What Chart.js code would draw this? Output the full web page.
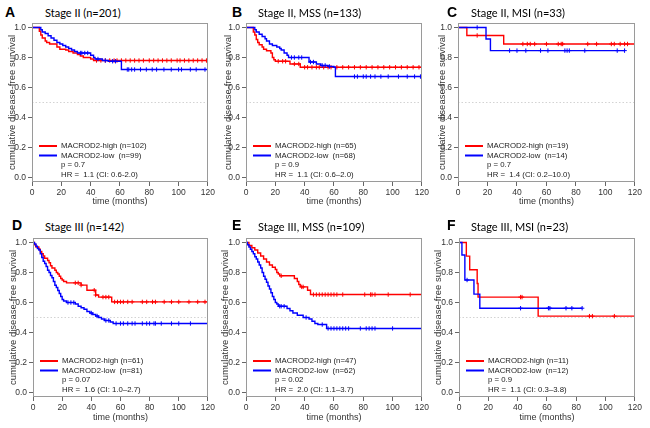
<!DOCTYPE html>
<html>
<head>
<meta charset="utf-8">
<script src="https://cdn.jsdelivr.net/npm/chart.js@4.4.1/dist/chart.umd.min.js"></script>
<style>
body { margin: 0; background: #fff; }
#fig { position: relative; width: 650px; height: 428px; overflow: hidden; background: #fff; }
.pan { position: absolute; }
.lbl { position: absolute; font: bold 14px "Liberation Sans", Arial, sans-serif; line-height: 14px; color: #000; }
.ttl { position: absolute; font: 11px Lato, "Open Sans", sans-serif; line-height: 14px; color: #000; white-space: nowrap; }
</style>
</head>
<body>
<div id="fig"></div>
<script>
// texte des panneaux
const letters = ['A', 'B', 'C', 'D', 'E', 'F'];
const titles = ['Stage II (n=201)', 'Stage II, MSS (n=133)', 'Stage II, MSI (n=33)',
                'Stage III (n=142)', 'Stage III, MSS (n=109)', 'Stage III, MSI (n=23)'];
const highLabels = ['MACROD2-high (n=102)', 'MACROD2-high (n=65)', 'MACROD2-high (n=19)',
                    'MACROD2-high (n=61)', 'MACROD2-high (n=47)', 'MACROD2-high (n=11)'];
const lowLabels = ['MACROD2-low  (n=99)', 'MACROD2-low  (n=68)', 'MACROD2-low  (n=14)',
                   'MACROD2-low  (n=81)', 'MACROD2-low  (n=62)', 'MACROD2-low  (n=12)'];
const pValues = ['p = 0.7', 'p = 0.9', 'p = 0.7', 'p = 0.07', 'p = 0.02', 'p = 0.9'];
const hrTexts = ['HR =  1.1 (CI: 0.6-2.0)', 'HR =  1.1 (CI: 0.6–2.0)', 'HR =  1.4 (CI: 0.2–10.0)',
                 'HR =  1.6 (CI: 1.0–2.7)', 'HR =  2.0 (CI: 1.1–3.7)', 'HR =  1.1 (CI: 0.3–3.8)'];
const xTicks = [0, 20, 40, 60, 80, 100, 120];
const yTicks = [0, 0.2, 0.4, 0.6, 0.8, 1.0];

// A - Stage II
const aHighT = [0, 5, 6, 7, 9, 10, 12, 17, 19, 23, 25, 28, 31, 33, 35, 40, 42, 120];
const aHighS = [1, 0.975, 0.95, 0.93, 0.91, 0.90, 0.89, 0.87, 0.855, 0.85, 0.84, 0.83, 0.82, 0.81, 0.80, 0.79, 0.78, 0.78];
const aHighC = [44, 47, 50, 53, 56, 58, 61, 64, 67, 70, 73, 76, 80, 83, 86, 89, 92, 95, 99, 101, 104, 107, 110, 113, 116, 119];
const aLowT = [0, 6, 7, 9, 11, 13, 15, 17, 19, 21, 23, 25, 27, 29, 31, 40, 42, 43, 48, 52, 61, 120];
const aLowS = [1, 0.985, 0.97, 0.96, 0.945, 0.93, 0.915, 0.90, 0.89, 0.88, 0.87, 0.86, 0.85, 0.84, 0.83, 0.815, 0.80, 0.79, 0.78, 0.775, 0.72, 0.72];
const aLowC = [33, 34, 36, 38, 45, 50, 55, 57, 65, 66, 68, 70, 74, 78, 82, 85, 90, 95, 100, 102, 108, 112, 118];

// B - Stage II, MSS
const bHighT = [0, 5, 6, 7, 8, 9, 11, 12, 14, 17, 18, 19, 20, 30, 37, 120];
const bHighS = [1, 0.97, 0.95, 0.92, 0.90, 0.885, 0.87, 0.855, 0.845, 0.83, 0.80, 0.785, 0.775, 0.757, 0.735, 0.735];
const bHighC = [22, 25, 27, 33, 36, 40, 42, 45, 48, 50, 53, 56, 58, 62, 66, 70, 74, 78, 82, 86, 90, 94, 98, 102, 106, 110, 114, 118];
const bLowT = [0, 6, 7, 9, 11, 13, 14, 16, 18, 21, 23, 24, 26, 28, 29, 43, 48, 51, 56, 60, 61, 120];
const bLowS = [1, 0.985, 0.97, 0.955, 0.94, 0.925, 0.91, 0.89, 0.88, 0.87, 0.86, 0.85, 0.83, 0.815, 0.80, 0.77, 0.757, 0.747, 0.74, 0.735, 0.673, 0.673];
const bLowC = [31, 33, 36, 38, 44, 46, 52, 54, 57, 74, 76, 80, 82, 85, 88, 92, 97, 104, 110, 115, 119];

// C - Stage II, MSI
const cHighT = [0, 6, 31, 120];
const cHighS = [1, 0.947, 0.89, 0.89];
const cHighC = [13, 44, 47, 49, 52, 60, 68, 70, 71, 88, 94, 104, 106, 110, 113, 115];
const cLowT = [0, 19, 22, 113];
const cLowS = [1, 0.923, 0.846, 0.846];
const cLowC = [13, 35, 40, 46, 56, 61, 72.5, 74, 75.5, 86, 108, 113];

// D - Stage III
const dHighT = [0, 1, 2, 4, 5, 6, 7, 8, 10, 11, 12, 13, 15, 16, 17, 18, 19, 20, 21, 23, 33, 37, 43, 45, 54, 120];
const dHighS = [1, 0.985, 0.97, 0.955, 0.94, 0.925, 0.91, 0.895, 0.88, 0.865, 0.845, 0.83, 0.815, 0.80, 0.79, 0.775, 0.76, 0.75, 0.74, 0.731, 0.716, 0.682, 0.65, 0.636, 0.604, 0.604];
const dHighC = [29, 31, 33, 42, 43, 48, 50, 52, 56, 58, 60, 62, 65, 68, 75, 78, 82, 84, 90, 95, 100, 107, 113, 118];
const dLowT = [0, 1, 2, 3, 4, 5, 6, 7, 8, 9, 10, 11, 12, 13, 14, 15, 16, 17, 18, 19, 20, 21, 23, 29, 31, 33, 35, 37, 39, 41, 43, 45, 47, 49, 53, 55, 120];
const dLowS = [1, 0.99, 0.975, 0.96, 0.95, 0.925, 0.90, 0.875, 0.86, 0.84, 0.815, 0.80, 0.78, 0.765, 0.74, 0.715, 0.70, 0.68, 0.66, 0.64, 0.62, 0.61, 0.60, 0.59, 0.575, 0.565, 0.555, 0.54, 0.53, 0.52, 0.51, 0.50, 0.49, 0.48, 0.47, 0.46, 0.46];
const dLowC = [24, 26, 28, 40, 44, 50, 52, 57, 60, 62, 65, 68, 70, 75, 78, 80, 83, 84, 88, 95, 100, 108];

// E - Stage III, MSS
const eHighT = [0, 2, 4, 6, 8, 10, 12, 14, 16, 18, 20, 21, 22, 23, 33, 35, 36, 37, 42, 44, 120];
const eHighS = [1, 0.98, 0.965, 0.95, 0.93, 0.91, 0.89, 0.87, 0.85, 0.835, 0.82, 0.80, 0.79, 0.778, 0.76, 0.74, 0.72, 0.704, 0.682, 0.653, 0.653];
const eHighC = [24, 38, 39, 46, 48, 50, 52, 54, 56, 58, 60, 62, 66, 81, 85, 86, 88, 97, 112];
const eLowT = [0, 1, 2, 3, 4, 5, 6, 7, 8, 9, 10, 11, 12, 13, 14, 15, 16, 17, 18, 19, 20, 21, 22, 28, 30, 32, 35, 39, 43, 45, 47, 49, 55, 120];
const eLowS = [1, 0.985, 0.97, 0.955, 0.94, 0.925, 0.905, 0.89, 0.87, 0.85, 0.83, 0.80, 0.775, 0.755, 0.735, 0.71, 0.69, 0.665, 0.64, 0.62, 0.60, 0.59, 0.575, 0.56, 0.545, 0.53, 0.515, 0.50, 0.49, 0.475, 0.46, 0.453, 0.427, 0.427];
const eLowC = [23, 24, 26, 41, 52, 56, 58, 60, 62, 64, 66, 68, 70, 78, 82, 84, 86, 88, 100];

// F - Stage III, MSI
const fHighT = [0, 5, 7.3, 12.4, 13, 54, 120];
const fHighS = [1, 0.909, 0.818, 0.727, 0.636, 0.509, 0.509];
const fHighC = [42, 43, 89, 91, 106];
const fLowT = [0, 2, 4, 10.2, 14.2, 84];
const fLowS = [1, 0.917, 0.75, 0.656, 0.562, 0.562];
const fLowC = [5.5, 42, 61, 62, 73, 77, 84];

const curves = [
    [aHighT, aHighS, aHighC, aLowT, aLowS, aLowC],
    [bHighT, bHighS, bHighC, bLowT, bLowS, bLowC],
    [cHighT, cHighS, cHighC, cLowT, cLowS, cLowC],
    [dHighT, dHighS, dHighC, dLowT, dLowS, dLowC],
    [eHighT, eHighS, eHighC, eLowT, eLowS, eLowC],
    [fHighT, fHighS, fHighC, fLowT, fLowS, fLowC]
];

// placement: canvas [left, top, w, h], zone de tracé [left, top, right, bottom], lettre, titre
const layout = [
    { cv: [0, 15, 217, 200],   area: [32, 23, 213, 182],   lt: [5, 5],     tt: [45, 6] },
    { cv: [216, 15, 215, 200], area: [246, 23, 427, 182],  lt: [232, 5],   tt: [258, 6] },
    { cv: [430, 15, 214, 200], area: [458, 23, 640, 182],  lt: [447, 5],   tt: [471, 6] },
    { cv: [1, 230, 216, 198],  area: [33, 238, 213, 397],  lt: [12, 218],  tt: [45, 220] },
    { cv: [213, 230, 218, 198], area: [246, 238, 427, 397], lt: [232, 218], tt: [258, 220] },
    { cv: [426, 230, 218, 198], area: [459, 238, 640, 397], lt: [447, 218], tt: [471, 220] }
];

const FONT = '"Liberation Sans", Arial, sans-serif';
const RED = '#ff0000';
const BLUE = '#0000ff';

function stepPoints(t, s) {
    return t.map((x, i) => ({ x: x, y: s[i] }));
}
function survAt(t, s, x) {
    let v = s[0];
    for (let i = 0; i < t.length; i++) { if (t[i] <= x) v = s[i]; }
    return v;
}
function censorPoints(c, t, s) {
    return c.map(x => ({ x: x, y: survAt(t, s, x) }));
}

const fig = document.getElementById('fig');

layout.forEach((L, k) => {
    const lt = document.createElement('div');
    lt.className = 'lbl';
    lt.style.left = L.lt[0] + 'px'; lt.style.top = L.lt[1] + 'px';
    lt.textContent = letters[k];
    fig.appendChild(lt);

    const tt = document.createElement('div');
    tt.className = 'ttl';
    tt.style.left = L.tt[0] + 'px'; tt.style.top = L.tt[1] + 'px';
    tt.textContent = titles[k];
    fig.appendChild(tt);

    const wrap = document.createElement('div');
    wrap.className = 'pan';
    wrap.style.left = L.cv[0] + 'px'; wrap.style.top = L.cv[1] + 'px';
    wrap.style.width = L.cv[2] + 'px'; wrap.style.height = L.cv[3] + 'px';
    const cv = document.createElement('canvas');
    wrap.appendChild(cv);
    fig.appendChild(wrap);

    const yAxisW = L.area[0] - L.cv[0];
    const xAxisH = (L.cv[1] + L.cv[3]) - L.area[3];
    const padTop = L.area[1] - L.cv[1];
    const padRight = (L.cv[0] + L.cv[2]) - L.area[2];
    const xTitleBottom = k < 3 ? 7.6 : 4.6;

    const [hT, hS, hC, lT, lS, lC] = curves[k];

    // boîte, ligne 0.5 et légende dessinées dans la zone de tracé
    const decor = {
        id: 'decor' + k,
        beforeDatasetsDraw(chart) {
            const a = chart.chartArea, ctx = chart.ctx;
            const y = chart.scales.y.getPixelForValue(0.5);
            ctx.save();
            ctx.strokeStyle = '#c8c8c8';
            ctx.lineWidth = 0.8;
            ctx.setLineDash([1.5, 2]);
            ctx.beginPath(); ctx.moveTo(a.left, y); ctx.lineTo(a.right, y); ctx.stroke();
            ctx.restore();
        },
        afterDraw(chart) {
            const a = chart.chartArea, ctx = chart.ctx;
            ctx.save();
            ctx.strokeStyle = '#9a9a9a';
            ctx.lineWidth = 1;
            ctx.strokeRect(Math.round(a.left) + 0.5, Math.round(a.top) + 0.5,
                           Math.round(a.right - a.left) - 1, Math.round(a.bottom - a.top) - 1);
            const rows = [123, 132.5, 142, 151.5].map(r => a.top + r);
            ctx.lineWidth = 2;
            ctx.strokeStyle = RED;
            ctx.beginPath(); ctx.moveTo(a.left + 7, rows[0]); ctx.lineTo(a.left + 25, rows[0]); ctx.stroke();
            ctx.strokeStyle = BLUE;
            ctx.beginPath(); ctx.moveTo(a.left + 7, rows[1]); ctx.lineTo(a.left + 25, rows[1]); ctx.stroke();
            ctx.fillStyle = '#222';
            ctx.font = '7.8px ' + FONT;
            ctx.textBaseline = 'middle';
            ctx.fillText(highLabels[k], a.left + 29, rows[0]);
            ctx.fillText(lowLabels[k], a.left + 29, rows[1]);
            ctx.fillText(pValues[k], a.left + 29, rows[2]);
            ctx.fillText(hrTexts[k], a.left + 29, rows[3]);
            ctx.restore();
        }
    };

    new Chart(cv, {
        type: 'line',
        data: {
            datasets: [
                { data: stepPoints(lT, lS), borderColor: BLUE, borderWidth: 1.4, stepped: true, pointRadius: 0, fill: false },
                { data: censorPoints(lC, lT, lS), showLine: false, pointStyle: 'cross', pointRadius: 2.2, borderColor: BLUE, borderWidth: 1 },
                { data: stepPoints(hT, hS), borderColor: RED, borderWidth: 1.4, stepped: true, pointRadius: 0, fill: false },
                { data: censorPoints(hC, hT, hS), showLine: false, pointStyle: 'cross', pointRadius: 2.2, borderColor: RED, borderWidth: 1 }
            ]
        },
        options: {
            responsive: true,
            maintainAspectRatio: false,
            animation: false,
            layout: { padding: { top: padTop, right: padRight, left: 0, bottom: 0 } },
            plugins: { legend: { display: false }, tooltip: { enabled: false } },
            scales: {
                x: {
                    type: 'linear', min: 0, max: 120,
                    afterBuildTicks: s => { s.ticks = xTicks.map(v => ({ value: v })); },
                    afterFit: s => { s.height = xAxisH; },
                    grid: { drawOnChartArea: false, drawTicks: true, tickLength: 4, color: '#666' },
                    border: { display: false },
                    ticks: { padding: 2, color: '#333', font: { family: FONT, size: 8.5 }, maxRotation: 0, callback: v => String(v) },
                    title: { display: true, text: 'time (months)', color: '#333', font: { family: FONT, size: 9 }, padding: { top: 0, bottom: xTitleBottom } }
                },
                y: {
                    type: 'linear', min: -0.03, max: 1.03,
                    afterBuildTicks: s => { s.ticks = yTicks.map(v => ({ value: v })); },
                    afterFit: s => { s.width = yAxisW; },
                    grid: { drawOnChartArea: false, drawTicks: true, tickLength: 4, color: '#666' },
                    border: { display: false },
                    ticks: { padding: 2, color: '#333', font: { family: FONT, size: 8.5 }, callback: v => v.toFixed(1) },
                    title: { display: true, text: 'cumulative disease-free survival', color: '#333', font: { family: FONT, size: 9.5 }, padding: { top: 6.3, bottom: 0 } }
                }
            }
        },
        plugins: [decor]
    });
});
</script>
</body>
</html>
